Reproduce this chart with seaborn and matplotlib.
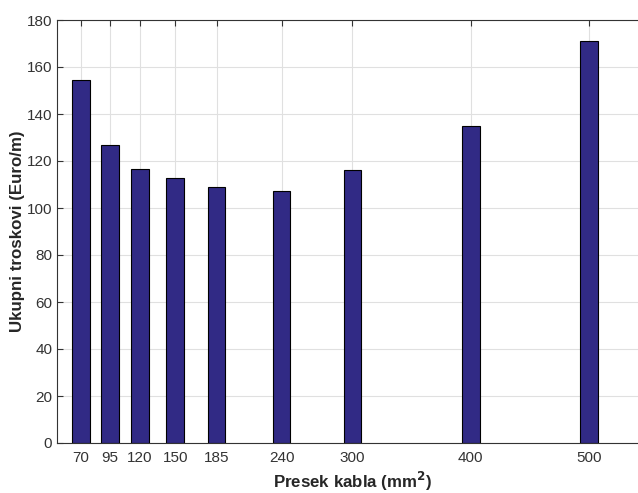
import matplotlib
matplotlib.use("Agg")
import matplotlib.pyplot as plt
import seaborn as sns
import pandas as pd

presek = [70, 95, 120, 150, 185, 240, 300, 400, 500]
troskovi = [154.3, 126.7, 116.6, 112.9, 108.9, 107.1, 116.2, 134.8, 171.1]
yticks = [0, 20, 40, 60, 80, 100, 120, 140, 160, 180]

sns.set_theme(style="white")
plt.rcParams['font.family'] = ['Liberation Sans', 'DejaVu Sans']

df = pd.DataFrame({"presek": presek, "troskovi": troskovi})

fig = plt.figure(figsize=(6.38, 4.93), dpi=100)
ax = fig.add_axes([57/638, 50/493, 591/638, 423/493])

sns.barplot(data=df, x="presek", y="troskovi", native_scale=True, width=0.6,
            color="#312a85", saturation=1, edgecolor="black", linewidth=0.8, ax=ax)

ax.set_xlim(50, 550)
ax.set_ylim(0, 180)
ax.set_xticks(presek)
ax.set_xticklabels([str(p) for p in presek])
ax.set_yticks(yticks)
ax.set_axisbelow(True)
ax.grid(True, color="#e0e0e0", linewidth=0.8)
for s in ["left", "bottom", "top"]:
    ax.spines[s].set_color("#333333")
    ax.spines[s].set_linewidth(0.8)
ax.spines["right"].set_visible(False)
ax.tick_params(direction="in", length=4, width=0.8, colors="#333333",
               labelcolor="#333333", labelsize=11, top=True, left=True, bottom=True)
ax.tick_params(axis="x", pad=6)
ax.set_xlabel("Presek kabla (mm$^\\mathbf{2}$)", fontsize=12.2, fontweight="bold",
              color="#262626", labelpad=3)
ax.set_ylabel("Ukupni troskovi (Euro/m)", fontsize=12.2, fontweight="bold",
              color="#262626", labelpad=1)

fig.savefig("out.png", dpi=100)
